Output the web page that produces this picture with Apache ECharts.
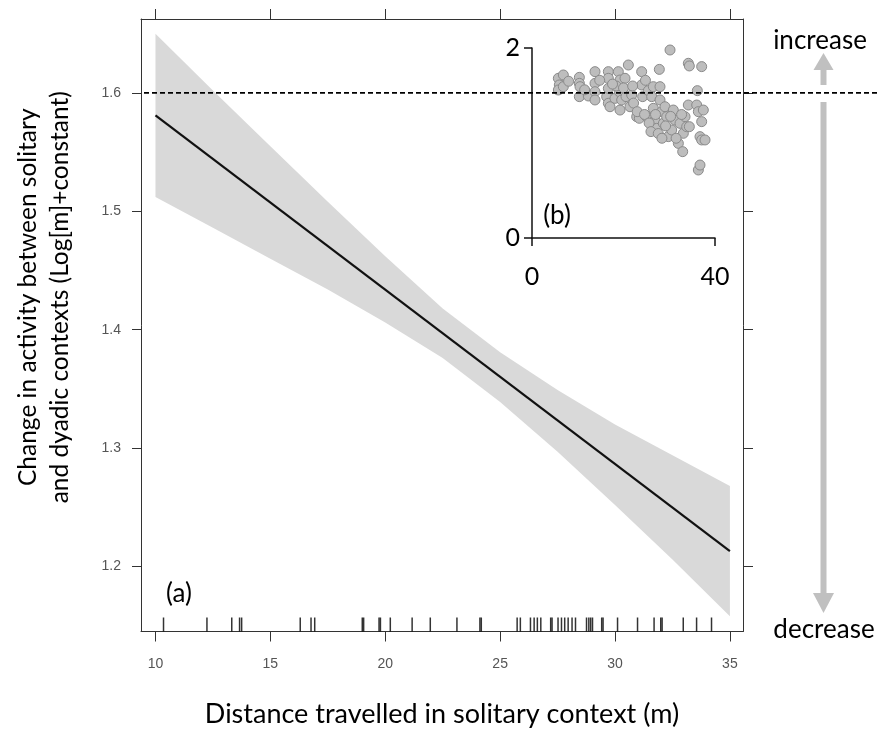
<!DOCTYPE html>
<html>
<head>
<meta charset="utf-8">
<script src="https://cdn.jsdelivr.net/npm/echarts@6/dist/echarts.min.js"></script>
<style>
html,body{margin:0;padding:0;background:#fff;}
#chart{width:879px;height:733px;}
</style>
</head>
<body>
<div id="chart"></div>
<script>
// ---- data ----
const xTicks = [10, 15, 20, 25, 30, 35];
const yTicks = [1.2, 1.3, 1.4, 1.5, 1.6];
const fitX = [10, 35];
const fitY = [1.581, 1.213];
const bandX = [10, 12.5, 15, 17.5, 20, 22.5, 25, 27.5, 30, 32.5, 35];
const bandUpper = [1.650, 1.602, 1.555, 1.508, 1.462, 1.418, 1.381, 1.349, 1.320, 1.294, 1.268];
const bandLower = [1.512, 1.486, 1.460, 1.434, 1.406, 1.376, 1.339, 1.297, 1.252, 1.206, 1.158];
const rugX = [10.35, 12.24, 13.32, 13.66, 13.75, 16.30, 16.77, 16.93, 19.00, 19.06, 19.73, 19.79,
  20.22, 21.17, 21.96, 23.12, 24.12, 24.18, 25.74, 25.88, 26.32, 26.48, 26.62, 26.77, 27.20, 27.26,
  27.52, 27.67, 27.81, 27.96, 28.13, 28.28, 28.76, 28.86, 28.94, 29.02, 29.42, 29.48, 30.11, 30.98,
  31.70, 31.99, 32.05, 32.97, 33.55, 34.20];
const refLineY = 1.6;
const insetX = [5.76, 6.85, 5.97, 5.76, 6.85, 10.35, 10.35, 10.35, 10.49, 12.31, 13.77, 13.77, 13.77, 13.77,
  16.32, 16.69, 16.69, 16.69, 16.69, 17.05, 18.14, 18.87, 19.24, 19.09, 19.24, 19.6, 20.33, 20.55, 21.06,
  21.42, 21.79, 22.88, 23.46, 23.97, 23.97, 24.19, 25.07, 25.43, 26.16, 26.52, 26.52, 26.89, 27.25, 27.83,
  27.98, 27.98, 28.35, 28.71, 29.07, 29.44, 29.8, 30.17, 30.53, 30.89, 31.26, 31.99, 32.35, 32.94, 33.08,
  33.45, 33.81, 34.39, 34.17, 34.39, 34.17, 36.0, 36.14, 36.36, 36.72, 36.36, 37.09, 37.09, 37.45, 36.72,
  37.09, 37.82, 22.2, 23.0, 24.6, 25.6, 26.0, 27.0, 27.6, 28.4, 29.2, 30.3, 31.5, 32.7, 14.8, 18.4, 20.0,
  22.0, 24.8, 17.6, 8.0, 11.5];
const insetY = [1.681, 1.716, 1.611, 1.558, 1.593, 1.691, 1.628, 1.488, 1.593, 1.495, 1.751, 1.628, 1.540, 1.453,
  1.488, 1.751, 1.681, 1.575, 1.418, 1.382, 1.470, 1.751, 1.663, 1.540, 1.347, 1.453, 1.681, 1.488, 1.821,
  1.382, 1.505, 1.277, 1.260, 1.751, 1.611, 1.488, 1.277, 1.551, 1.488, 1.593, 1.365, 1.242, 1.154, 1.775,
  1.593, 1.453, 1.330, 1.207, 1.382, 1.277, 1.067, 1.979, 1.137, 1.347, 1.242, 0.996, 1.207, 0.909, 1.102,
  1.277, 1.172, 1.172, 1.839, 1.811, 1.400, 1.400, 1.551, 0.716, 0.768, 1.330, 1.804, 1.225, 1.347, 1.067,
  1.032, 1.032, 1.42, 1.33, 1.30, 1.21, 1.12, 1.30, 1.10, 1.05, 1.18, 1.28, 1.05, 1.30, 1.66, 1.60, 1.58,
  1.60, 1.66, 1.62, 1.65, 1.56];
const insetXTicks = [0, 40];
const insetYTicks = [0, 2];

// ---- ranges (plot region) ----
const xMin = 9.37, xMax = 35.57, yMin = 1.1451, yMax = 1.6624;

const chart = echarts.init(document.getElementById('chart'), null, {renderer: 'canvas'});
const tickColor = '#333';
const sansTick = 'Liberation Sans';
const labelFont = 'Lato';

const option = {
  animation: false,
  backgroundColor: '#fff',
  grid: [
    {left: 141, top: 19, width: 602, height: 613},
    {left: 532, top: 48, width: 183, height: 190}
  ],
  xAxis: [
    {
      gridIndex: 0, type: 'value', min: xMin, max: xMax, position: 'bottom',
      axisLine: {show: true, onZero: false, lineStyle: {color: tickColor, width: 1}},
      axisTick: {show: true, length: 10, customValues: xTicks, lineStyle: {color: tickColor, width: 1}},
      axisLabel: {customValues: xTicks, fontSize: 14, color: '#555', fontFamily: sansTick, margin: 26},
      splitLine: {show: false},
      name: 'Distance travelled in solitary context (m)',
      nameLocation: 'middle', nameGap: 70,
      nameTextStyle: {fontSize: 27, fontFamily: labelFont, color: '#000', lineHeight: 26}
    },
    {
      gridIndex: 0, type: 'value', min: xMin, max: xMax, position: 'top',
      axisLine: {show: true, onZero: false, lineStyle: {color: tickColor, width: 1}},
      axisTick: {show: true, length: 10, customValues: xTicks, lineStyle: {color: tickColor, width: 1}},
      axisLabel: {show: false},
      splitLine: {show: false}
    },
    {
      gridIndex: 1, type: 'value', min: 0, max: 40, interval: 40, position: 'bottom',
      axisLine: {show: true, onZero: false, lineStyle: {color: '#111', width: 1.5}},
      axisTick: {show: true, length: 8, customValues: insetXTicks, lineStyle: {color: '#111', width: 1.5}},
      axisLabel: {customValues: insetXTicks, fontSize: 25, color: '#000', fontFamily: labelFont, margin: 26},
      splitLine: {show: false}
    }
  ],
  yAxis: [
    {
      gridIndex: 0, type: 'value', min: yMin, max: yMax, position: 'left',
      axisLine: {show: true, onZero: false, lineStyle: {color: tickColor, width: 1}},
      axisTick: {show: true, length: 9, customValues: yTicks, lineStyle: {color: tickColor, width: 1}},
      axisLabel: {customValues: yTicks, fontSize: 14, color: '#555', fontFamily: sansTick, margin: 20,
        formatter: v => v.toFixed(1)},
      splitLine: {show: false},
      name: 'Change in activity between solitary\nand dyadic contexts (Log[m]+constant)',
      nameLocation: 'middle', nameGap: 65, nameRotate: 90,
      nameTextStyle: {fontSize: 24.5, fontFamily: labelFont, color: '#000', lineHeight: 32,
        padding: [0, 0, 0, 56]}
    },
    {
      gridIndex: 0, type: 'value', min: yMin, max: yMax, position: 'right',
      axisLine: {show: true, onZero: false, lineStyle: {color: tickColor, width: 1}},
      axisTick: {show: true, length: 10, customValues: yTicks, lineStyle: {color: tickColor, width: 1}},
      axisLabel: {show: false},
      splitLine: {show: false}
    },
    {
      gridIndex: 1, type: 'value', min: 0, max: 2, interval: 2, position: 'left',
      axisLine: {show: true, onZero: false, lineStyle: {color: '#111', width: 1.5}},
      axisTick: {show: true, length: 8, customValues: insetYTicks, lineStyle: {color: '#111', width: 1.5}},
      axisLabel: {customValues: insetYTicks, fontSize: 25, color: '#000', fontFamily: labelFont, margin: 12},
      splitLine: {show: false}
    }
  ],
  series: [
    {
      type: 'custom', xAxisIndex: 0, yAxisIndex: 0, silent: true, z: 1, clip: false,
      data: bandX.map((x, i) => [x, bandLower[i], bandUpper[i]]),
      encode: {x: 0, y: [1, 2]},
      renderItem: function (params, api) {
        if (params.dataIndex !== 0) return null;
        const pts = [];
        for (let i = 0; i < bandX.length; i++) pts.push(api.coord([bandX[i], bandUpper[i]]));
        for (let i = bandX.length - 1; i >= 0; i--) pts.push(api.coord([bandX[i], bandLower[i]]));
        return {type: 'polygon', shape: {points: pts}, style: {fill: '#d9d9d9'}};
      }
    },
    {
      type: 'line', xAxisIndex: 0, yAxisIndex: 0, symbol: 'none', silent: true, z: 3,
      lineStyle: {color: '#111', width: 2.2},
      data: fitX.map((x, i) => [x, fitY[i]])
    },
    {
      type: 'scatter', xAxisIndex: 0, yAxisIndex: 0, symbol: 'rect', symbolSize: [1.5, 14],
      symbolOffset: [0, -7], silent: true, z: 3, clip: false,
      itemStyle: {color: '#000'},
      data: rugX.map(x => [x, yMin])
    },
    {
      type: 'scatter', xAxisIndex: 2, yAxisIndex: 2, symbol: 'circle', symbolSize: 10, silent: true, z: 4,
      itemStyle: {color: '#bdbdbd', borderColor: '#8a8a8a', borderWidth: 1, opacity: 1},
      data: insetX.map((x, i) => [x, insetY[i]])
    }
  ]
};
chart.setOption(option);

// annotations placed through the axes' own scales
const yRef = chart.convertToPixel({yAxisIndex: 0}, refLineY);
const xLeft = chart.convertToPixel({xAxisIndex: 0}, xMin);
const arrowColor = '#c0c0c0';
chart.setOption({
  graphic: [
    {type: 'line', z: 100, shape: {x1: xLeft + 3, y1: yRef, x2: 879, y2: yRef},
      style: {stroke: '#000', lineWidth: 1.6, lineDash: [5, 3]}},
    {type: 'polygon', z: 90, shape: {points: [[823.5, 53], [813.5, 70], [833.5, 70]]}, style: {fill: arrowColor}},
    {type: 'rect', z: 90, shape: {x: 820.5, y: 70, width: 6, height: 15}, style: {fill: arrowColor}},
    {type: 'rect', z: 90, shape: {x: 820.5, y: 102, width: 6, height: 491}, style: {fill: arrowColor}},
    {type: 'polygon', z: 90, shape: {points: [[813, 593], [834, 593], [823.5, 613]]}, style: {fill: arrowColor}},
    {type: 'text', z: 100, x: 820, y: 41, style: {text: 'increase', fontSize: 26, fontFamily: labelFont,
      fill: '#000', align: 'center', verticalAlign: 'middle'}},
    {type: 'text', z: 100, x: 824, y: 630, style: {text: 'decrease', fontSize: 26, fontFamily: labelFont,
      fill: '#000', align: 'center', verticalAlign: 'middle'}},
    {type: 'text', z: 100, x: 179, y: 594, style: {text: '(a)', fontSize: 26, fontFamily: labelFont,
      fill: '#000', align: 'center', verticalAlign: 'middle'}},
    {type: 'text', z: 100, x: 557, y: 216, style: {text: '(b)', fontSize: 26, fontFamily: labelFont,
      fill: '#000', align: 'center', verticalAlign: 'middle'}}
  ]
});
</script>
</body>
</html>
